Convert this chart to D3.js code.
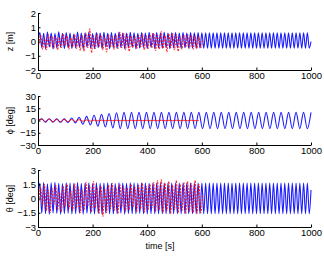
<!DOCTYPE html>
<html lang="en">
  <head>
    <meta charset="UTF-8" />
    <title>z phi theta</title>
    <style>
      body { margin: 0; background: #fff; }
      text { font-family: "Liberation Sans", Arial, sans-serif; }
    </style>
  </head>
  <body>
    <div class="container"></div>
    <script src="https://d3js.org/d3.v7.min.js"></script>
    <script>
      // data: alternating peak / trough values, one every half period
      const halfPeriodFast = 6.9; // z, theta  [s]
      const halfPeriodSlow = 13.7; // phi [s]
      const redOffset = 3; // red trace starts a little later [s]
      const xTicks = [0, 200, 400, 600, 800, 1000];

      const zBlue = [
        0.05, 0.62, -0.42, 0.58, -0.5, 0.66, -0.38, 0.6, -0.52, 0.55, -0.45, 0.68, -0.4, 0.57, -0.5, 0.63, -0.44, 0.6, -0.48, 0.52,
        -0.46, 0.66, -0.41, 0.59, -0.53, 0.61, -0.38, 0.64, -0.47, 0.56, -0.5, 0.62, -0.43, 0.6, -0.49, 0.65, -0.4, 0.58, -0.51, 0.63,
        -0.44, 0.57, -0.47, 0.66, -0.42, 0.6, -0.5, 0.59, -0.45, 0.64, -0.39, 0.61, -0.52, 0.58, -0.46, 0.63, -0.43, 0.6, -0.49, 0.65,
        -0.41, 0.57, -0.5, 0.62, -0.44, 0.6, -0.47, 0.64, -0.42, 0.59, -0.5, 0.61, -0.45, 0.63, -0.46, 0.6, -0.48, 0.62, -0.44, 0.6,
        -0.47, 0.62, -0.46, 0.61, -0.47, 0.62, -0.46, 0.61,
        -0.47, 0.61, -0.47, 0.61, -0.47, 0.61, -0.47, 0.61, -0.47, 0.61, -0.47, 0.61, -0.47, 0.61, -0.47, 0.61, -0.47, 0.61, -0.47, 0.61,
        -0.47, 0.61, -0.47, 0.61, -0.47, 0.61, -0.47, 0.61, -0.47, 0.61, -0.47, 0.61, -0.47, 0.61, -0.47, 0.61, -0.47, 0.61, -0.47, 0.61,
        -0.47, 0.61, -0.47, 0.61, -0.47, 0.61, -0.47, 0.61, -0.47, 0.61, -0.47, 0.61, -0.47, 0.61, -0.47, 0.61, -0.47, 0.0
      ];
      const zRed = [
        -0.2, 0.45, -0.55, 0.3, -0.6, 0.5, -0.35, 0.4, -0.5, 0.35, -0.6, 0.3, -0.45, 0.55, -0.3, 0.4, -0.55, 0.25, -0.4, 0.5,
        -0.5, 0.35, -0.65, 0.45, -0.7, 0.6, -0.45, 0.9, -0.8, 0.4, -0.5, 0.55, -0.35, 0.45, -0.6, 0.3, -0.75, 0.5, -0.4, 0.35,
        -0.55, 0.45, -0.5, 0.65, -0.45, 0.6, -0.6, 0.5, -0.7, 0.4, -0.45, 0.35, -0.5, 0.45, -0.4, 0.55, -0.6, 0.4, -0.5, 0.5,
        -0.45, 0.6, -0.65, 0.45, -0.55, 0.7, -0.5, 0.4, -0.75, 0.55, -0.45, 0.6, -0.6, 0.5, -0.7, 0.35, -0.55, 0.45, -0.4, 0.5,
        -0.5, 0.45, -0.55, 0.4, -0.5, 0.35, -0.45, 0.2
      ];
      const phiBlue = [
        0, 2, -2, 2.2, -2, 2, -2.2, 2, -2.5, 3, -3, 4, -4.5, 5, -5.5, 6.5, -7, 7.5, -8, 8.5,
        -9, 9.5, -10, 10, -10, 10, -10, 10, -10, 10, -10, 10, -10, 10, -10, 10, -10, 10, -10, 10,
        -10, 10, -10, 10, -10, 10, -10, 10, -10, 10, -10, 10, -10, 10, -10, 10, -10, 10, -10, 10,
        -10, 10, -10, 10, -10, 10, -10, 10, -10, 10, -10, 10, -10, 10
      ];
      const phiRed = [
        0, 1.5, -1.5, 1.8, -1.5, 1.5, -1.8, 1.5, -1.5, 1.2, -1.2, 1, -1, 0.8, -0.8, 0.5, -0.5, 0.4, -0.4, 0.3,
        -0.3, 0.3, -0.3, 0.3, -0.3, 0.3, -0.3, 0.3, -0.3, 0.3, -0.3, 0.3, -0.3, 0.3, -0.3, 0.3, -0.3, 0.3, -0.3, 0.3,
        -0.3, 0.3, -0.3, 0.2
      ];
      const thetaBlue = [
        0.1, 1.62, -1.55, 1.68, -1.6, 1.55, -1.66, 1.64, -1.52, 1.7, -1.58, 1.6, -1.65, 1.57, -1.6, 1.66, -1.54, 1.62, -1.63, 1.58,
        -1.6, 1.67, -1.56, 1.6, -1.64, 1.63, -1.55, 1.66, -1.6, 1.58, -1.62, 1.65, -1.57, 1.6, -1.66, 1.62, -1.55, 1.64, -1.6, 1.6,
        -1.63, 1.58, -1.6, 1.66, -1.56, 1.62, -1.64, 1.6, -1.58, 1.65, -1.6, 1.62, -1.62, 1.6, -1.58, 1.64, -1.6, 1.62, -1.63, 1.6,
        -1.6, 1.62, -1.6, 1.63, -1.6, 1.62, -1.6, 1.62, -1.6, 1.62, -1.6, 1.62, -1.6, 1.62, -1.6, 1.62, -1.6, 1.62, -1.6, 1.62,
        -1.6, 1.62, -1.6, 1.62, -1.6, 1.62, -1.6, 1.62,
        -1.6, 1.62, -1.6, 1.62, -1.6, 1.62, -1.6, 1.62, -1.6, 1.62, -1.6, 1.62, -1.6, 1.62, -1.6, 1.62, -1.6, 1.62, -1.6, 1.62,
        -1.6, 1.62, -1.6, 1.62, -1.6, 1.62, -1.6, 1.62, -1.6, 1.62, -1.6, 1.62, -1.6, 1.62, -1.6, 1.62, -1.6, 1.62, -1.6, 1.62,
        -1.6, 1.62, -1.6, 1.62, -1.6, 1.62, -1.6, 1.62, -1.6, 1.62, -1.6, 1.62, -1.6, 1.62, -1.6, 1.62, -1.6, 0.9
      ];
      const thetaRed = [
        -0.3, 1.2, -0.8, 1.5, -1.3, 0.9, -1.5, 1.1, -0.6, 1.4, -1.2, 0.7, -1.4, 1.3, -0.9, 1.5, -1.1, 0.8, -1.3, 1.6,
        -1.0, 1.2, -1.5, 0.9, -1.2, 1.7, -0.8, 1.4, -1.4, 1.8, -1.0, 1.1, -1.6, 1.3, -1.9, 1.0, -1.5, 1.4, -1.1, 1.6,
        -1.3, 1.2, -1.6, 1.5, -1.0, 1.3, -1.4, 1.1, -1.2, 1.5, -0.9, 1.2, -1.4, 1.4, -1.1, 1.6, -1.5, 1.3, -1.2, 1.5,
        -1.0, 1.7, -1.4, 1.9, -1.2, 2.0, -1.5, 1.6, -1.3, 1.8, -1.6, 1.4, -1.2, 1.9, -1.5, 1.5, -1.3, 1.7, -1.6, 1.8,
        -1.4, 1.6, -1.5, 1.9, -1.6, 1.5, -1.5, 0.4
      ];

      const yTicksZ = [-2, -1, 0, 1, 2];
      const yTicksPhi = [-30, -15, 0, 15, 30];
      const yTicksTheta = [-3, -1.5, 0, 1.5, 3];

      // layout
      const W = 324, H = 256;
      const left = 38, right = 311;
      const tickFont = 9.5, labelFont = 9;
      const panels = [
        { label: "z [m]", dom: [-2, 2], ticks: yTicksZ, top: 13, bottom: 70,
          blue: zBlue, red: zRed, step: halfPeriodFast },
        { label: "\u03d5 [deg]", dom: [-30, 30], ticks: yTicksPhi, top: 96, bottom: 145,
          blue: phiBlue, red: phiRed, step: halfPeriodSlow },
        { label: "\u03b8 [deg]", dom: [-3, 3], ticks: yTicksTheta, top: 170, bottom: 227,
          blue: thetaBlue, red: thetaRed, step: halfPeriodFast }
      ];

      const svg = d3.select(".container").append("svg")
        .attr("width", W).attr("height", H);

      const x = d3.scaleLinear().domain([0, 1000]).range([left, right]);
      const fmt = d => String(d).replace("-", "\u2212");

      panels.forEach((p, k) => {
        const y = d3.scaleLinear().domain(p.dom).range([p.bottom, p.top]);
        const g = svg.append("g");

        const clipId = "clip" + k;
        svg.append("clipPath").attr("id", clipId)
          .append("rect").attr("x", left).attr("y", p.top)
          .attr("width", right - left + 1).attr("height", p.bottom - p.top);

        const lineB = d3.line()
          .curve(d3.curveMonotoneX)
          .x((d, i) => x(Math.min(1000, i * p.step)))
          .y(d => y(d));
        const lineR = d3.line()
          .curve(d3.curveMonotoneX)
          .x((d, i) => x(i * p.step + (k == 1 ? 0 : redOffset)))
          .y(d => y(d));

        g.append("path").datum(p.blue)
          .attr("clip-path", `url(#${clipId})`)
          .attr("d", lineB).attr("fill", "none")
          .attr("stroke", "#1a1aff").attr("stroke-width", 1.1);

        g.append("path").datum(p.red)
          .attr("clip-path", `url(#${clipId})`)
          .attr("d", lineR).attr("fill", "none")
          .attr("stroke", "#ff0a0a").attr("stroke-width", 0.9)
          .attr("stroke-dasharray", k == 1 ? null : "2,1.2");

        // axes (ticks point inward)
        g.append("g").attr("transform", `translate(0,${p.bottom})`)
          .call(d3.axisBottom(x).tickValues(xTicks).tickFormat(fmt)
            .tickSizeInner(-2.5).tickSizeOuter(0).tickPadding(2.5))
          .call(a => a.selectAll("text").attr("font-size", tickFont).attr("font-family", "Liberation Sans, Arial"));

        g.append("g").attr("transform", `translate(${left},0)`)
          .call(d3.axisLeft(y).tickValues(p.ticks).tickFormat(fmt)
            .tickSizeInner(-2.5).tickSizeOuter(0).tickPadding(2))
          .call(a => a.selectAll("text").attr("font-size", tickFont).attr("font-family", "Liberation Sans, Arial"));

        svg.append("text")
          .attr("transform", `translate(13,${(p.top + p.bottom) / 2}) rotate(-90)`)
          .attr("text-anchor", "middle")
          .attr("font-size", labelFont)
          .text(p.label);
      });

      svg.append("text")
        .attr("x", 160).attr("y", 249)
        .attr("text-anchor", "middle")
        .attr("font-size", labelFont)
        .text("time [s]");
    </script>
  </body>
</html>
